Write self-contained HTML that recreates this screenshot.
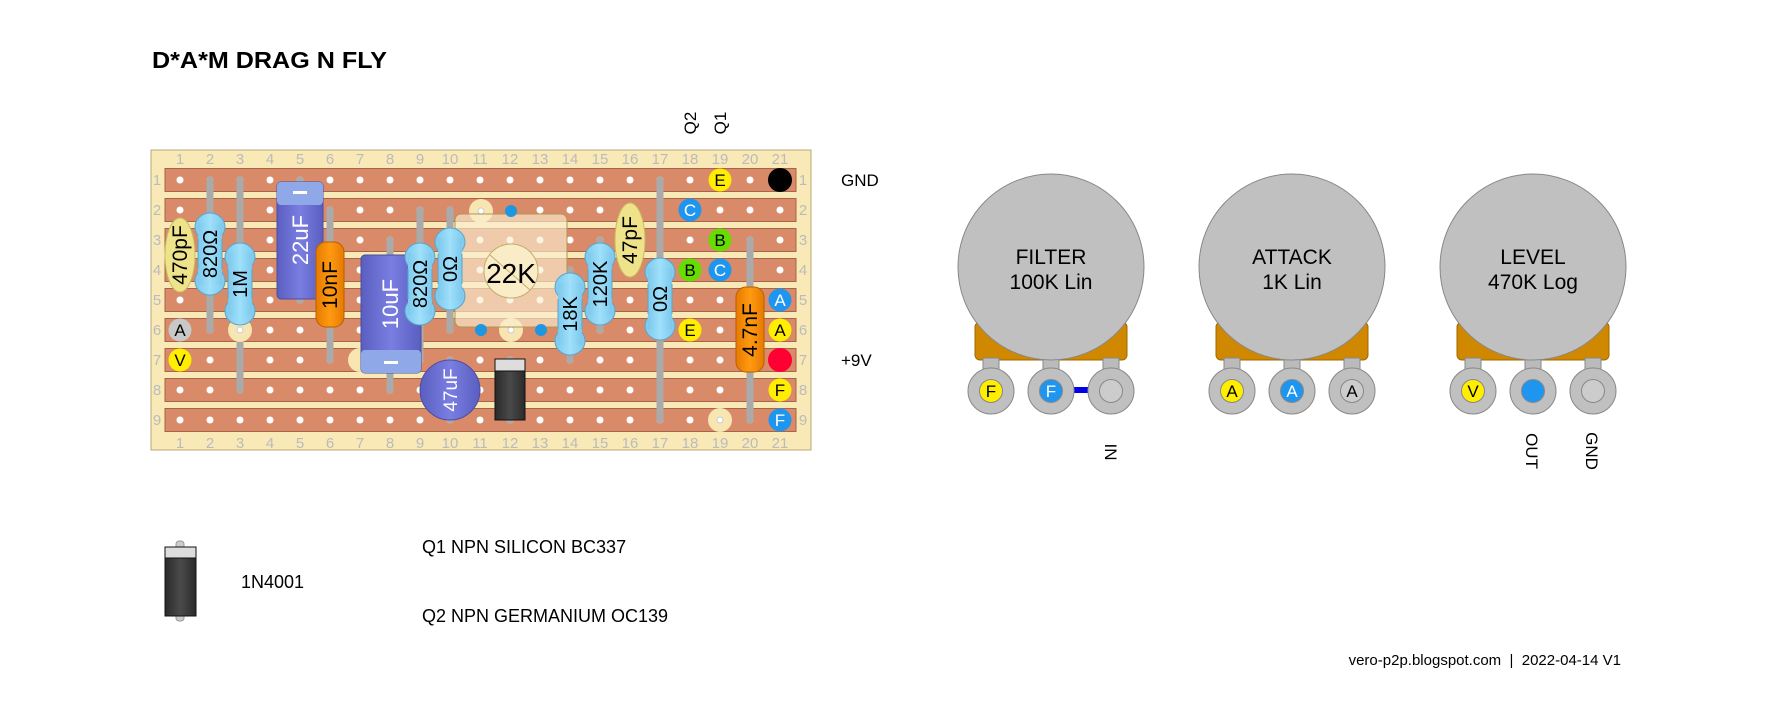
<!DOCTYPE html>
<html><head><meta charset="utf-8"><style>
html,body{margin:0;padding:0;background:#fff;}
svg{display:block;font-family:"Liberation Sans",sans-serif;}
</style></head><body>
<svg id="s" width="1771" height="708" viewBox="0 0 1771 708" xmlns="http://www.w3.org/2000/svg">
<defs>
<linearGradient id="gres" x1="0" x2="1"><stop offset="0" stop-color="#7cc8ec"/><stop offset="0.5" stop-color="#9fe0fb"/><stop offset="1" stop-color="#7cc8ec"/></linearGradient>
<linearGradient id="gorg" x1="0" x2="1"><stop offset="0" stop-color="#e67a00"/><stop offset="0.5" stop-color="#ff9a10"/><stop offset="1" stop-color="#e67a00"/></linearGradient>
<linearGradient id="gele" x1="0" x2="1"><stop offset="0" stop-color="#5a5ec0"/><stop offset="0.5" stop-color="#7a7ee0"/><stop offset="1" stop-color="#5a5ec0"/></linearGradient>
<linearGradient id="gdio" x1="0" x2="1"><stop offset="0" stop-color="#2a2a2a"/><stop offset="0.5" stop-color="#4a4a4a"/><stop offset="1" stop-color="#2a2a2a"/></linearGradient>
</defs>
<text x="152" y="68" font-size="23" font-weight="bold" textLength="235" lengthAdjust="spacingAndGlyphs">D*A*M DRAG N FLY</text>

<rect x="151" y="150" width="660" height="300" fill="#f8e9b6" stroke="#b8a878"/>
<g id="strips"></g>
<g id="labels" fill="#bbb" font-size="15" text-anchor="middle"></g>
<g id="holes"></g>

<g font-size="17">
<text transform="translate(696,123) rotate(-90)" text-anchor="middle">Q2</text>
<text transform="translate(726,123) rotate(-90)" text-anchor="middle">Q1</text>
</g>
<text x="841" y="186" font-size="17">GND</text>
<text x="841" y="366" font-size="17">+9V</text>

<g stroke="#aaa" stroke-width="7" stroke-linecap="round" fill="none">
<line x1="210" y1="180" x2="210" y2="330"/>
<line x1="240" y1="180" x2="240" y2="390"/>
<line x1="300" y1="180" x2="300" y2="300"/>
<line x1="330" y1="210" x2="330" y2="360"/>
<line x1="390" y1="240" x2="390" y2="390"/>
<line x1="420" y1="210" x2="420" y2="360"/>
<line x1="450" y1="210" x2="450" y2="330"/>
<line x1="570" y1="270" x2="570" y2="360"/>
<line x1="600" y1="240" x2="600" y2="330"/>
<line x1="660" y1="180" x2="660" y2="420"/>
<line x1="750" y1="240" x2="750" y2="420"/>
<line x1="510" y1="360" x2="510" y2="420"/>
<line x1="450" y1="360" x2="450" y2="420"/>
</g>

<g fill="#f7e5b2">
<circle cx="240" cy="330" r="12"/><circle cx="360" cy="360" r="12"/><circle cx="720" cy="420" r="12"/>
<circle cx="481" cy="211" r="12"/><circle cx="511" cy="330" r="12"/>
</g>
<g fill="#fff" stroke="#ccc"><circle cx="240" cy="330" r="3"/><circle cx="720" cy="420" r="3"/><circle cx="481" cy="211" r="3"/><circle cx="511" cy="330" r="3"/></g>

<g>
<rect x="455" y="214" width="112" height="113" rx="6" fill="#fbeed0" fill-opacity="0.65" stroke="#a89a50"/>
<circle cx="511" cy="271" r="27" fill="#fbecc8" stroke="#c0ae70"/>
<line x1="490" y1="255" x2="530" y2="290" stroke="#c0ae70"/>
<text x="511" y="283" font-size="28" text-anchor="middle">22K</text>
</g>
<g fill="#1e96e0"><circle cx="511" cy="211" r="6"/><circle cx="481" cy="330" r="6"/><circle cx="541" cy="330" r="6"/></g>

<g>
<ellipse cx="180" cy="255" rx="15" ry="37" fill="#eee38a" stroke="#c8bb60"/>
<text transform="translate(187,255) rotate(-90)" font-size="21" text-anchor="middle">470pF</text>
</g>

<g>
<rect x="277" y="182" width="46" height="117" rx="4" fill="url(#gele)" stroke="#4a4ea0"/>
<rect x="277" y="182" width="46" height="23" rx="4" fill="#8fa9e8"/>
<rect x="293" y="191" width="14" height="3" fill="#fff"/>
<text transform="translate(308,240) rotate(-90)" font-size="22" fill="#fff" text-anchor="middle">22uF</text>
</g>
<g>
<rect x="316" y="242" width="28" height="85" rx="10" fill="url(#gorg)" stroke="#b86000"/>
<text transform="translate(337,285) rotate(-90)" font-size="21" text-anchor="middle">10nF</text>
</g>
<g>
<rect x="361" y="255" width="60" height="118" rx="4" fill="url(#gele)" stroke="#4a4ea0"/>
<rect x="361" y="350" width="60" height="23" rx="4" fill="#8fa9e8"/>
<rect x="384" y="361" width="14" height="3" fill="#fff"/>
<text transform="translate(398,304) rotate(-90)" font-size="22" fill="#fff" text-anchor="middle">10uF</text>
</g>
<g>
<ellipse cx="630" cy="240" rx="15" ry="37" fill="#eee38a" stroke="#c8bb60"/>
<text transform="translate(637,240) rotate(-90)" font-size="21" text-anchor="middle">47pF</text>
</g>
<g>
<rect x="736" y="287" width="28" height="85" rx="10" fill="url(#gorg)" stroke="#b86000"/>
<text transform="translate(757,330) rotate(-90)" font-size="21" text-anchor="middle">4.7nF</text>
</g>
<g>
<circle cx="450" cy="390" r="30" fill="url(#gele)" stroke="#4a4ea0"/>
<text transform="translate(457,390) rotate(-90)" font-size="19" fill="#fff" text-anchor="middle">47uF</text>
</g>
<g>
<rect x="495" y="359" width="30" height="61" fill="url(#gdio)" stroke="#111"/>
<rect x="495" y="359" width="30" height="12" fill="#ddd" stroke="#111"/>
</g>

<g id="resgroup" font-size="20" text-anchor="middle"></g>

<g id="marks" font-size="17" text-anchor="middle"></g>

<g id="pots"></g>
<text transform="translate(1105,452) rotate(90)" font-size="17" text-anchor="middle">IN</text>
<text transform="translate(1526,451) rotate(90)" font-size="17" text-anchor="middle">OUT</text>
<text transform="translate(1586,451) rotate(90)" font-size="17" text-anchor="middle">GND</text>

<g>
<rect x="176" y="541" width="8" height="80" rx="3" fill="#ccc" stroke="#999"/>
<rect x="165" y="547" width="31" height="69" fill="url(#gdio)" stroke="#111"/>
<rect x="165" y="547" width="31" height="11" fill="#ddd" stroke="#111"/>
</g>
<text x="241" y="588" font-size="18">1N4001</text>
<text x="422" y="553" font-size="18">Q1 NPN SILICON BC337</text>
<text x="422" y="622" font-size="18">Q2 NPN GERMANIUM OC139</text>
<text x="1621" y="665" font-size="15" text-anchor="end" xml:space="preserve">vero-p2p.blogspot.com  |  2022-04-14 V1</text>
</svg>
<script>
const NS='http://www.w3.org/2000/svg';
const cols=[1,2,3,4,5,6,7,8,9,10,11,12,13,14,15,16,17,18,19,20,21];
const rows=[1,2,3,4,5,6,7,8,9];
const X=c=>180+30*(c-1), Y=r=>180+30*(r-1);
function mk(tag,attrs,parent){const e=document.createElementNS(NS,tag);for(const k in attrs)e.setAttribute(k,attrs[k]);parent.appendChild(e);return e;}
const st=document.getElementById('strips'),lb=document.getElementById('labels'),hl=document.getElementById('holes');
rows.forEach(r=>{
  const e=mk('rect',{x:165,y:Y(r)-11.5,width:631,height:23,fill:'#d98a68',stroke:'#a8644a'},st);
  
  
  const t1=mk('text',{x:157,y:Y(r)+5},lb);t1.textContent=r;
  
  
  const t2=mk('text',{x:803,y:Y(r)+5},lb);t2.textContent=r;
  
  
  cols.forEach(c=>{const h=mk('circle',{cx:X(c),cy:Y(r),r:3.5,fill:'#fff'},hl);
    
    });
});
cols.forEach(c=>{
  const a=mk('text',{x:X(c),y:164},lb);a.textContent=c;
  
  
  const b=mk('text',{x:X(c),y:448},lb);b.textContent=c;
  
  
});
const resistors=[[2,213,295,'820Ω'],[3,243,325,'1M'],[9,243,325,'820Ω'],[10,228,310,'0Ω'],[14,273,355,'18K'],[15,243,325,'120K'],[17,258,340,'0Ω']];
const rg=document.getElementById('resgroup');
resistors.forEach(([c,t,b,l])=>{
  const g=mk('g',{},rg);
  
  
  const x=X(c);
  mk('ellipse',{cx:x,cy:t+14,rx:15,ry:14,fill:'url(#gres)',stroke:'#5aa6cc'},g);
  mk('ellipse',{cx:x,cy:b-14,rx:15,ry:14,fill:'url(#gres)',stroke:'#5aa6cc'},g);
  mk('rect',{x:x-12,y:t+10,width:24,height:b-t-20,fill:'url(#gres)'},g);
  mk('line',{x1:x-12,y1:t+26,x2:x-12,y2:b-26,stroke:'#5aa6cc'},g);
  mk('line',{x1:x+12,y1:t+26,x2:x+12,y2:b-26,stroke:'#5aa6cc'},g);
  const tx=mk('text',{transform:`translate(${x+7},${(t+b)/2}) rotate(-90)`},g);tx.textContent=l;
});
const marks=[[19,1,'#ffee00','E','#000'],[18,2,'#1e96f0','C','#fff'],[19,3,'#66dd00','B','#000'],[18,4,'#66dd00','B','#000'],[19,4,'#1e96f0','C','#fff'],[18,6,'#ffee00','E','#000'],[21,1,'#000','',''],[21,5,'#1e96f0','A','#fff'],[21,6,'#ffee00','A','#000'],[21,7,'#ff0033','',''],[21,8,'#ffee00','F','#000'],[21,9,'#1e96f0','F','#fff'],[1,6,'#c8c8c8','A','#000'],[1,7,'#ffee00','V','#000']];
const mg=document.getElementById('marks');
marks.forEach(([c,r,f,l,tc])=>{
  const g=mk('g',{},mg);
  
  
  mk('circle',{cx:X(c),cy:Y(r),r:c==21&&!l?12:11.5,fill:f},g);
  if(l){const t=mk('text',{x:X(c),y:Y(r)+6,fill:tc},g);t.textContent=l;}
});
const pots=[[1051,'FILTER','100K Lin',[['#ffee00','F','#000'],['#1e96f0','F','#fff'],['#ccc','','']]],[1292,'ATTACK','1K Lin',[['#ffee00','A','#000'],['#1e96f0','A','#fff'],['#ccc','A','#000']]],[1533,'LEVEL','470K Log',[['#ffee00','V','#000'],['#1e96f0','',''],['#ccc','','']]]];
const pg=document.getElementById('pots');
pots.forEach(([cx,n1,n2,lugs])=>{
  const g=mk('g',{},pg);
  
  
  mk('rect',{x:cx-76,y:322,width:152,height:38,rx:5,fill:'#d08800',stroke:'#a06800'},g);
  [-60,0,60].forEach(dx=>mk('rect',{x:cx+dx-8,y:358,width:16,height:12,fill:'#bbb',stroke:'#888'},g));
  mk('circle',{cx:cx,cy:267,r:93,fill:'#c0c0c0',stroke:'#888'},g);
  const a=mk('text',{x:cx,y:264,'font-size':21,'text-anchor':'middle'},g);a.textContent=n1;
  const b=mk('text',{x:cx,y:289,'font-size':21,'text-anchor':'middle'},g);b.textContent=n2;
  if(n1==='FILTER') mk('rect',{x:cx+12,y:387,width:40,height:6,fill:'#0000ee'},g);
  lugs.forEach(([f,l,tc],i)=>{
    const lx=cx-60+60*i;
    mk('circle',{cx:lx,cy:391,r:23,fill:'#c0c0c0',stroke:'#888'},g);
    mk('circle',{cx:lx,cy:391,r:11.5,fill:f,stroke:'#888'},g);
    if(l){const t=mk('text',{x:lx,y:397,'font-size':17,'text-anchor':'middle',fill:tc},g);t.textContent=l;}
  });
});
</script>
</body></html>
